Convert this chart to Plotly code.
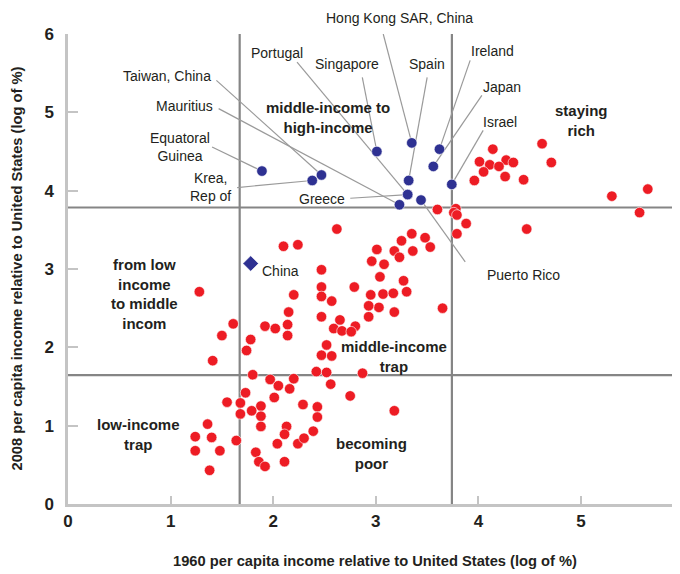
import plotly.graph_objects as go

# ---------------- data (log of % relative to US) ----------------
red_x = [4.14, 4.62, 4.01, 4.11, 4.27, 4.34, 4.20, 4.71, 4.05, 4.26, 3.96, 4.44,
         5.65, 5.30, 5.57, 4.47, 3.78, 3.76, 3.79, 3.88, 3.79, 3.60,
         3.35, 3.25, 3.48, 3.53, 3.01, 3.18, 3.23, 3.36, 2.96, 3.08, 3.04, 3.27,
         3.30, 2.95, 3.07, 3.17, 3.03, 3.18, 2.93, 3.65, 2.93, 2.79, 2.62, 2.10,
         2.24, 2.47, 2.47, 2.20, 2.47, 2.57, 2.15, 2.47, 2.65, 1.61, 1.92, 2.02,
         2.14, 2.59, 2.67, 2.80, 2.76, 2.14, 1.78, 1.74, 2.52, 2.47, 2.57, 1.28,
         1.50, 1.41,
         1.80, 1.97, 2.05, 2.20, 2.16, 2.42, 2.52, 2.56, 2.87, 2.75, 3.18, 1.73,
         2.01, 1.55, 1.68, 1.88, 1.68, 1.79, 1.88, 2.29, 2.43, 2.43, 1.36, 1.88,
         2.13, 2.11, 2.39, 1.24, 1.40, 1.64, 2.04, 2.24, 2.30, 1.24, 1.48, 1.83,
         1.86, 1.92, 2.11, 1.38]
red_y = [4.53, 4.60, 4.37, 4.33, 4.39, 4.36, 4.31, 4.36, 4.24, 4.18, 4.13, 4.14,
         4.02, 3.93, 3.72, 3.51, 3.77, 3.72, 3.69, 3.58, 3.45, 3.76,
         3.45, 3.36, 3.40, 3.28, 3.25, 3.23, 3.15, 3.23, 3.10, 3.06, 2.90, 2.85,
         2.71, 2.67, 2.68, 2.69, 2.51, 2.45, 2.39, 2.50, 2.53, 2.77, 3.51, 3.29,
         3.31, 2.99, 2.77, 2.67, 2.65, 2.59, 2.45, 2.39, 2.35, 2.30, 2.27, 2.24,
         2.29, 2.24, 2.21, 2.27, 2.20, 2.15, 2.10, 1.96, 2.03, 1.90, 1.89, 2.71,
         2.15, 1.83,
         1.65, 1.59, 1.51, 1.60, 1.47, 1.69, 1.68, 1.53, 1.67, 1.38, 1.19, 1.42,
         1.36, 1.30, 1.29, 1.25, 1.15, 1.19, 1.12, 1.27, 1.24, 1.11, 1.02, 0.99,
         0.99, 0.89, 0.93, 0.86, 0.85, 0.81, 0.77, 0.77, 0.84, 0.68, 0.68, 0.66,
         0.54, 0.48, 0.54, 0.43]

blue_names = ["Equatoral Guinea", "Taiwan, China", "Krea, Rep of", "Singapore",
              "Hong Kong SAR, China", "Ireland", "Japan", "Spain", "Israel",
              "Portugal", "Greece", "Mauritius", "Puerto Rico"]
blue_x = [1.89, 2.47, 2.38, 3.01, 3.35, 3.62, 3.56, 3.32, 3.74, 3.31, 3.31, 3.23, 3.44]
blue_y = [4.25, 4.20, 4.13, 4.50, 4.61, 4.53, 4.31, 4.13, 4.08, 3.95, 3.95, 3.82, 3.88]

china_x = [1.78]
china_y = [3.07]

x_thresholds = [1.673, 3.741]
y_thresholds = [1.645, 3.785]

x_ticks = [0, 1, 2, 3, 4, 5]
y_ticks = [0, 1, 2, 3, 4, 5, 6]

x_title = "1960 per capita income relative to United States (log of %)"
y_title = "2008 per capita income relative to United States (log of %)"

# ---------------- layout settings (positions / styles) ----------------
FONT = "Liberation Sans, Arial, sans-serif"
TXT = "#231f20"
RED = "#ED1C24"
BLUE = "#2E3192"
XMAX = 5.964
LBL = 14      # regular label size
BLD = 15      # bold label size

# label text position (x, y, xanchor) and leader-line start (x, y)
label_pos = {
    "Equatoral Guinea": (1.095, 4.554, "center", 1.404, 4.557, "Equatoral<br>Guinea"),
    "Taiwan, China": (1.417, 5.459, "right", 1.446, 5.408, "Taiwan, China"),
    "Krea, Rep of": (1.611, 4.043, "right", 1.648, 4.040, "Krea,<br>Rep of"),
    "Singapore": (2.722, 5.612, "center", 2.868, 5.446, "Singapore"),
    "Hong Kong SAR, China": (3.228, 6.21, "center", 3.072, 6.0, "Hong Kong SAR, China"),
    "Ireland": (4.133, 5.778, "center", 3.919, 5.663, "Ireland"),
    "Japan": (4.231, 5.319, "center", 4.033, 5.217, "Japan"),
    "Spain": (3.500, 5.612, "center", 3.500, 5.446, "Spain"),
    "Israel": (4.211, 4.872, "center", 4.046, 4.770, "Israel"),
    "Portugal": (2.040, 5.753, "center", 2.232, 5.642, "Portugal"),
    "Greece": (2.478, 3.890, "center", 2.751, 3.903, "Greece"),
    "Mauritius": (1.436, 5.077, "right", 1.468, 5.047, "Mauritius"),
    "Puerto Rico": (4.435, 2.921, "center", 3.871, 3.091, "Puerto Rico"),
}

region_labels = [
    ("middle-income to<br>high-income", 2.537, 4.936),
    ("staying<br>rich", 5.000, 4.898),
    ("from low<br>income<br>to middle<br>incom", 0.745, 2.679),
    ("low-income<br>trap", 0.686, 0.893),
    ("middle-income<br>trap", 3.179, 1.888),
    ("becoming<br>poor", 2.955, 0.651),
]

fig = go.Figure()

fig.add_trace(go.Scatter(
    x=red_x, y=red_y, mode="markers",
    marker=dict(color=RED, size=10.5, line=dict(color="white", width=0.6)),
    hoverinfo="x+y", showlegend=False))

fig.add_trace(go.Scatter(
    x=blue_x, y=blue_y, mode="markers", text=blue_names,
    marker=dict(color=BLUE, size=10.5, line=dict(color="white", width=0.6)),
    hoverinfo="text+x+y", showlegend=False))

fig.add_trace(go.Scatter(
    x=china_x, y=china_y, mode="markers", text=["China"],
    marker=dict(color=BLUE, size=12, symbol="diamond", line=dict(color="white", width=0.6)),
    hoverinfo="text+x+y", showlegend=False))

shapes = []
for xv in x_thresholds:
    shapes.append(dict(type="line", xref="x", yref="y", x0=xv, x1=xv, y0=0, y1=6,
                       line=dict(color="#858585", width=2.2), layer="below"))
for yv in y_thresholds:
    shapes.append(dict(type="line", xref="x", yref="y", x0=0, x1=XMAX, y0=yv, y1=yv,
                       line=dict(color="#858585", width=2.2), layer="below"))

annotations = []
for name, px_, py_ in zip(blue_names, blue_x, blue_y):
    tx, ty, anchor, lx, ly, txt = label_pos[name]
    shapes.append(dict(type="line", xref="x", yref="y", x0=lx, y0=ly, x1=px_, y1=py_,
                       line=dict(color="#9a9a9a", width=1.2), layer="below"))
    if ty > 6:
        annotations.append(dict(text=txt, x=tx, y=ty / 6, xref="x", yref="paper",
                                xanchor=anchor, yanchor="middle", showarrow=False,
                                font=dict(family=FONT, size=LBL, color=TXT)))
    else:
        annotations.append(dict(text=txt, x=tx, y=ty, xref="x", yref="y",
                                xanchor=anchor, yanchor="middle", showarrow=False,
                                font=dict(family=FONT, size=LBL, color=TXT)))

annotations.append(dict(text="China", x=2.069, y=2.972, xref="x", yref="y",
                        xanchor="center", yanchor="middle", showarrow=False,
                        font=dict(family=FONT, size=LBL, color=TXT)))

for txt, tx, ty in region_labels:
    annotations.append(dict(text="<b>" + txt + "</b>", x=tx, y=ty, xref="x", yref="y",
                            xanchor="center", yanchor="middle", showarrow=False,
                            font=dict(family=FONT, size=BLD, color=TXT)))

# axis titles
annotations.append(dict(text="<b>" + x_title + "</b>", x=0.502, y=0, xref="paper", yref="paper",
                        yshift=-57, xanchor="center", yanchor="middle", showarrow=False,
                        font=dict(family=FONT, size=14.7, color=TXT)))
annotations.append(dict(text="<b>" + y_title + "</b>", x=0, y=0.5, xref="paper", yref="paper",
                        xshift=-51.5, xanchor="center", yanchor="middle", textangle=-90,
                        showarrow=False, font=dict(family=FONT, size=14.7, color=TXT)))
# partially visible last tick label
annotations.append(dict(text="<b>6</b>", x=6 / XMAX, y=0, xref="paper", yref="paper",
                        yshift=-16, xanchor="center", yanchor="middle", showarrow=False,
                        font=dict(family=FONT, size=17, color=TXT)))

# page body has an 8px margin: size the figure so the plot lands where the reference has it
fig.update_layout(
    width=672, height=566,
    margin=dict(l=59.5, r=0, t=25.5, b=70),
    plot_bgcolor="white", paper_bgcolor="white",
    shapes=shapes, annotations=annotations,
    xaxis=dict(range=[0, XMAX], tickvals=x_ticks, ticktext=["<b>%d</b>" % v for v in x_ticks],
               showgrid=False, zeroline=False, showline=True, linecolor="#c4c4c4", linewidth=2.5,
               ticks="inside", ticklen=8, tickwidth=2, tickcolor="#c4c4c4",
               tickfont=dict(family=FONT, size=17, color=TXT), ticklabelstandoff=0),
    yaxis=dict(range=[0, 6], tickvals=y_ticks, ticktext=["<b>%d</b>" % v for v in y_ticks],
               showgrid=False, zeroline=False, showline=True, linecolor="#c4c4c4", linewidth=2.5,
               ticks="inside", ticklen=10, tickwidth=2, tickcolor="#c4c4c4",
               tickfont=dict(family=FONT, size=17, color=TXT), ticklabelstandoff=8),
)

fig.write_html("out.html")
